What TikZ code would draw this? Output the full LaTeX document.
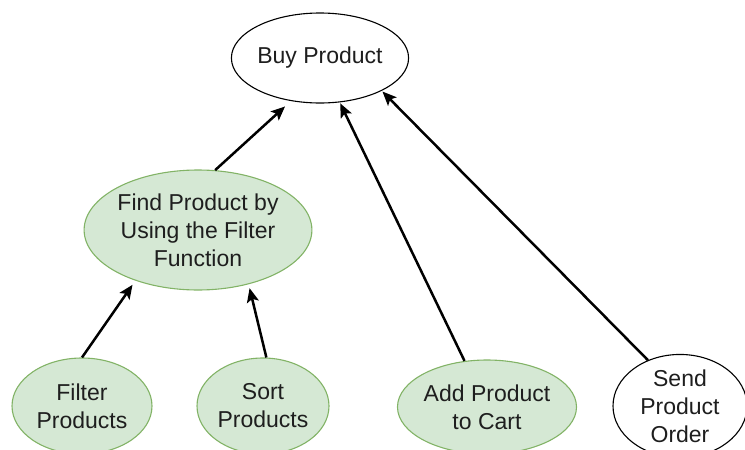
\documentclass[tikz,border=0pt]{standalone}
\usepackage{fontspec}
\setmainfont{Liberation Sans}
\usetikzlibrary{arrows.meta,shapes.geometric}
\definecolor{gfill}{HTML}{D5E8D4}
\definecolor{gline}{HTML}{82B366}
\definecolor{txt}{HTML}{1E1E1E}
\tikzset{
  uc/.style={ellipse, draw=black, line width=1.1pt, fill=white, inner sep=0pt,
    align=center, text=txt, font=\fontsize{23}{28}\selectfont},
  ucg/.style={uc, draw=gline, fill=gfill},
  link/.style={line width=2.5pt, -{Stealth[length=14pt,width=12pt,inset=3pt]}}
}
\begin{document}
\begin{tikzpicture}[x=1pt,y=-1pt]
\useasboundingbox (0,0) rectangle (745,450);
\clip (0,0) rectangle (745,450);
\node[uc, minimum width=176pt, minimum height=90pt] (buy) at (320,58) {Buy Product};
\node[ucg, minimum width=210pt, minimum height=120pt] (find) at (198,230) {Find Product by\\Using the Filter\\Function};
\node[ucg, minimum width=140pt, minimum height=96pt] (filter) at (82,406) {Filter\\Products};
\node[ucg, minimum width=132pt, minimum height=96pt] (sort) at (263,406) {Sort\\Products};
\node[ucg, minimum width=142pt, minimum height=94pt] (add) at (487,407) {Add Product\\to Cart};
\node[uc, minimum width=134pt, minimum height=96pt] (send) at (680,406) {Send\\Product\\Order};
\draw[link, shorten >=8pt] (find.74) -- (buy.236);
\draw[link, shorten >=5pt] (filter.north) -- (find.219);
\draw[link, shorten >=4pt] (sort.86) -- (find.313);
\draw[link, shorten >=1pt] (add.116) -- (buy.294);
\draw[link, shorten >=1pt] (send.125) -- (buy.332);
\end{tikzpicture}
\end{document}
